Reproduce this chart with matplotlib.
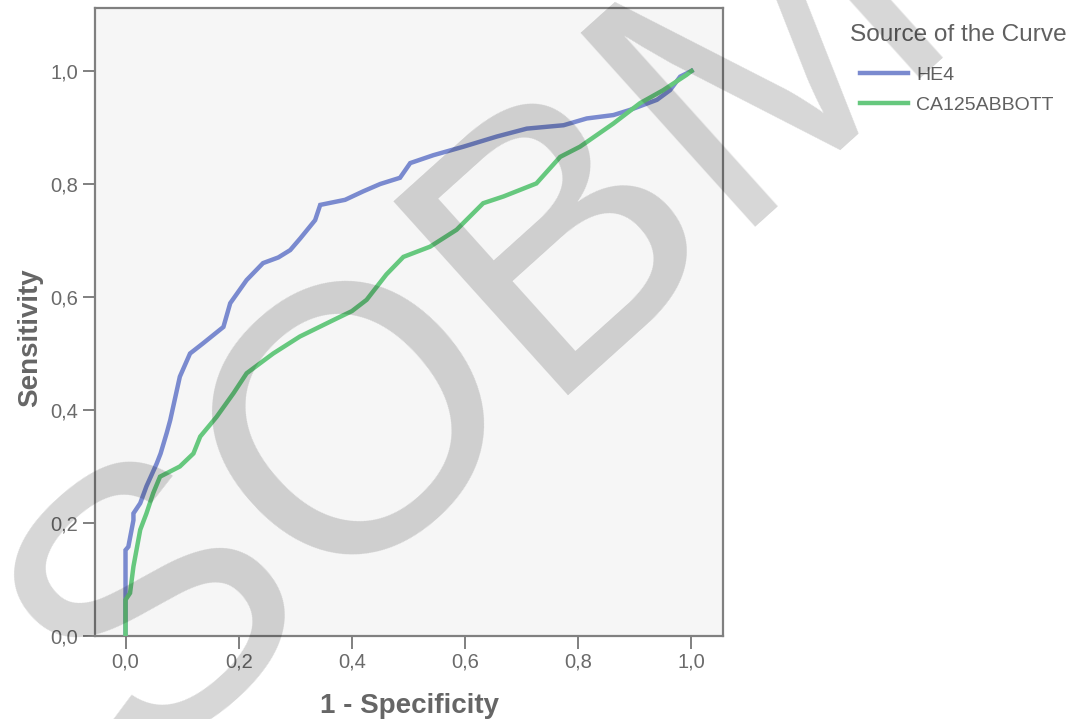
import matplotlib
matplotlib.use("Agg")
import matplotlib.pyplot as plt
from matplotlib.lines import Line2D

# ---- data ----
he4_fpr = [0, 0, 0, 0.005, 0.014, 0.014, 0.026, 0.037, 0.055, 0.062, 0.073, 0.079,
           0.096, 0.114, 0.137, 0.173, 0.185, 0.214, 0.243, 0.27, 0.291, 0.309,
           0.335, 0.344, 0.388, 0.42, 0.450, 0.485, 0.503, 0.544, 0.597, 0.656,
           0.709, 0.774, 0.815, 0.862, 0.891, 0.939, 0.962, 0.980, 0.998, 1.0]
he4_tpr = [0, 0.081, 0.152, 0.158, 0.205, 0.217, 0.235, 0.265, 0.305, 0.323, 0.36, 0.382,
           0.459, 0.500, 0.518, 0.547, 0.589, 0.630, 0.660, 0.67, 0.683, 0.704,
           0.736, 0.763, 0.772, 0.787, 0.800, 0.811, 0.837, 0.851, 0.866, 0.884,
           0.898, 0.904, 0.916, 0.922, 0.931, 0.949, 0.966, 0.990, 0.999, 1.0]

ca125_fpr = [0, 0, 0.008, 0.014, 0.026, 0.037, 0.049, 0.061, 0.096, 0.120, 0.132,
             0.161, 0.191, 0.214, 0.261, 0.308, 0.367, 0.40, 0.426, 0.461, 0.491,
             0.538, 0.585, 0.632, 0.668, 0.726, 0.768, 0.803, 0.862, 0.909, 0.950,
             0.991, 1.0]
ca125_tpr = [0, 0.064, 0.076, 0.123, 0.188, 0.217, 0.253, 0.282, 0.300, 0.323, 0.353,
             0.388, 0.430, 0.465, 0.500, 0.530, 0.559, 0.575, 0.595, 0.640, 0.671,
             0.689, 0.719, 0.766, 0.778, 0.801, 0.848, 0.866, 0.907, 0.943, 0.966,
             0.993, 1.0]

series_names = ["HE4", "CA125ABBOTT"]
series_colors = ["#7a8acf", "#66c87e"]
tick_values = [0.0, 0.2, 0.4, 0.6, 0.8, 1.0]
tick_labels = ["0,0", "0,2", "0,4", "0,6", "0,8", "1,0"]

W, H = 1077, 719
plt.rcParams['font.family'] = ['Liberation Sans', 'DejaVu Sans']
fig = plt.figure(figsize=(W / 100, H / 100), dpi=100)
fig.patch.set_facecolor('white')

ax = fig.add_axes([94.5 / W, 1 - 636 / H, (723 - 94.5) / W, (636 - 8) / H])
ax.set_facecolor('#f6f6f6')
ax.set_xlim(-0.0548, 1.0557)
ax.set_ylim(0, 1.1115)

ax.plot(he4_fpr, he4_tpr, color=series_colors[0], lw=3.2, solid_joinstyle='miter', zorder=3)
ax.plot(ca125_fpr, ca125_tpr, color=series_colors[1], lw=3.2, solid_joinstyle='miter', zorder=3)

for s in ax.spines.values():
    s.set_color('#808080')
    s.set_linewidth(1.6)

ax.set_xticks(tick_values)
ax.set_xticklabels(tick_labels)
ax.set_yticks(tick_values)
ax.set_yticklabels(tick_labels)
ax.tick_params(axis='both', direction='out', length=9, width=1.4, color='#808080',
               labelsize=14.5, labelcolor='#6a6a6a', pad=3)

fig.text(410 / W, 1 - 713 / H, "1 - Specificity", ha='center', va='baseline',
         fontsize=20, fontweight='bold', color='#666666')
fig.text(37 / W, 1 - 337.5 / H, "Sensitivity", ha='center', va='baseline',
         rotation=90, rotation_mode='anchor',
         fontsize=20, fontweight='bold', color='#666666')

fig.text(850 / W, 1 - 35 / H, "Source of the Curve", ha='left', va='center',
         fontsize=17.6, color='#606060')
handles = [Line2D([0], [0], color=c, lw=3.2) for c in series_colors]
leg = fig.legend(handles, series_names, loc='upper left',
                 bbox_to_anchor=(846.5 / W, 1 - 53 / H), frameon=False,
                 fontsize=14, handlelength=2.47, handletextpad=0.41,
                 labelspacing=0.6, borderpad=0.2)
for t in leg.get_texts():
    t.set_color('#606060')

# watermark
fig.text(549 / W, 1 - 397 / H, "SOBM", ha='center', va='baseline',
         rotation=42, rotation_mode='anchor', fontsize=272,
         color='black', alpha=0.16, zorder=10)

fig.savefig("out.png", dpi=100)
